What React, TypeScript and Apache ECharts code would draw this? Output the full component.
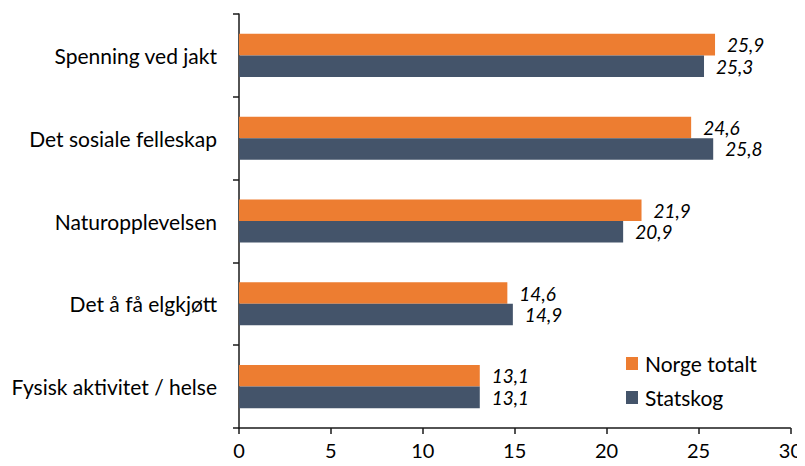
import React, { useEffect, useRef } from "react";
import * as echarts from "echarts";

const categories = [
  "Spenning ved jakt",
  "Det sosiale felleskap",
  "Naturopplevelsen",
  "Det å få elgkjøtt",
  "Fysisk aktivitet / helse",
];
const norgeTotalt = [25.9, 24.6, 21.9, 14.6, 13.1];
const statskog = [25.3, 25.8, 20.9, 14.9, 13.1];
const seriesNames = ["Norge totalt", "Statskog"];

const FONT = "Lato, 'Open Sans', sans-serif";

export default function App() {
  const ref = useRef<HTMLDivElement>(null);
  useEffect(() => {
    if (!ref.current) return;
    const chart = echarts.init(ref.current, undefined, { renderer: "svg" });
    const fmt = (p: any) => Number(p.value).toFixed(1).replace(".", ",");
    const label = {
      show: true,
      position: "right",
      distance: 12,
      fontStyle: "italic",
      fontSize: 19,
      lineHeight: 20,
      color: "#000",
      fontFamily: FONT,
      formatter: fmt,
    };
    chart.setOption({
      animation: false,
      textStyle: { fontFamily: FONT },
      grid: { left: 239, right: 14, top: 14, bottom: 38, containLabel: false },
      legend: {
        orient: "vertical",
        left: 621,
        top: 348,
        itemGap: 13,
        itemWidth: 12,
        itemHeight: 13,
        icon: "rect",
        textStyle: { fontSize: 21, color: "#000", fontFamily: FONT, padding: [0, 0, 0, 2] },
        data: seriesNames,
      },
      xAxis: {
        type: "value",
        min: 0,
        max: 30,
        interval: 5,
        splitLine: { show: false },
        axisLine: { show: true, lineStyle: { color: "#1a1a1a", width: 1.5 } },
        axisTick: { show: true, length: 6, lineStyle: { color: "#1a1a1a", width: 1.5 } },
        axisLabel: { fontSize: 20, lineHeight: 20, color: "#000", margin: 12, fontFamily: FONT },
      },
      yAxis: {
        type: "category",
        inverse: true,
        data: categories,
        axisLine: { show: true, lineStyle: { color: "#1a1a1a", width: 1.5 } },
        axisTick: { show: true, length: 6, lineStyle: { color: "#1a1a1a", width: 1.5 } },
        axisLabel: { fontSize: 21, color: "#000", margin: 22, fontFamily: FONT },
      },
      series: [
        {
          name: seriesNames[0],
          type: "bar",
          data: norgeTotalt,
          itemStyle: { color: "#ED7D31" },
          barGap: "0%",
          barCategoryGap: "48%",
          label,
        },
        {
          name: seriesNames[1],
          type: "bar",
          data: statskog,
          itemStyle: { color: "#44546A" },
          barGap: "0%",
          barCategoryGap: "48%",
          label,
        },
      ],
    });
    return () => chart.dispose();
  }, []);
  return <div ref={ref} style={{ width: 805, height: 466, margin: -8 }} />;
}
